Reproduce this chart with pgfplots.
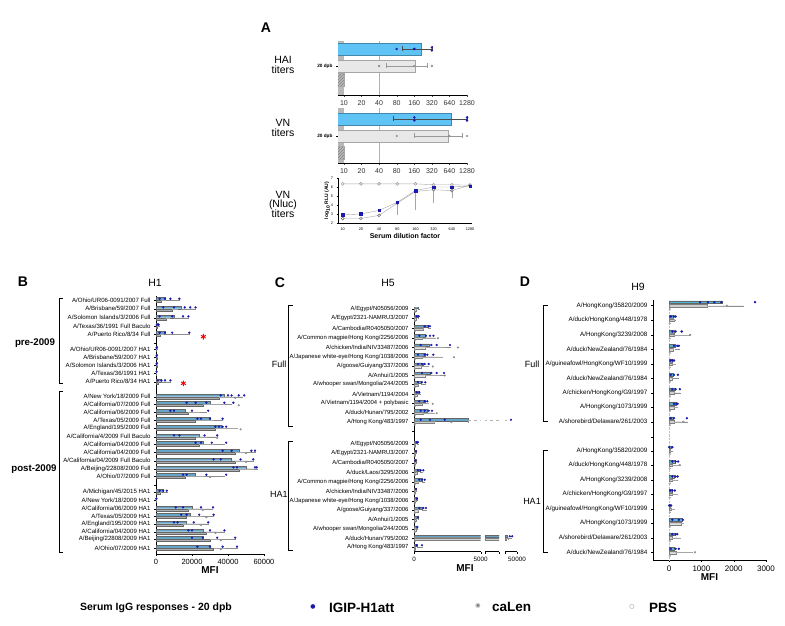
\documentclass[border=0pt]{standalone}
\usepackage{graphicx}
\usepackage{pgfplots}
\pgfplotsset{compat=1.18}
\usepackage{pgfplotstable}
\usepackage{fontspec}
\setmainfont{Liberation Sans}
\newfontfamily\dejavu{DejaVu Sans}
\usetikzlibrary{patterns}
\definecolor{abar}{RGB}{95,195,245}
\definecolor{ibar}{RGB}{100,165,200}
\definecolor{cbar}{RGB}{175,175,175}
\definecolor{dotb}{RGB}{25,25,175}
\newcommand{\fs}[1]{\fontsize{#1}{#1}\selectfont}

\pgfplotstableread{
y b g bp gp
-300.0 5000 3000 8000 2000
-308.7 14000 9000 8000 3000
-317.7 10000 5500 8000 2000
-326.0 1000 500 500 0
-334.0 5000 2000 13500 2000
-349.0 400 300 0 0
-357.0 600 400 0 0
-365.0 500 400 0 0
-373.0 300 200 0 0
-381.7 3000 1000 5000 0
-396.7 38000 35000 10000 8000
-404.0 30000 26000 12000 12000
-412.0 16000 18000 12000 6000
-420.0 30000 22000 7000 10000
-428.0 36000 33000 4000 12000
-436.7 24000 22000 10000 6000
-444.0 26000 24000 12000 8000
-452.0 46000 44000 9000 6000
-460.7 42000 44000 12000 5000
-468.7 50000 46000 6000 8000
-476.0 22000 16000 16000 10000
-492.0 4000 2000 2000 1000
-500.0 300 200 0 0
-508.7 20000 18000 11000 8000
-516.0 19000 17000 13000 8000
-523.7 17000 15000 12000 8000
-531.7 26000 28000 12000 6000
-539.0 26000 30000 18000 6000
-548.0 30000 32000 15000 6000
}\Bbars

\pgfplotstableread{
x y
2000 -300.0
5000 -300.0
8000 -300.0
13000 -300.0
4000 -308.7
10000 -308.7
16000 -308.7
19000 -308.7
22000 -308.7
2000 -317.7
9000 -317.7
15000 -317.7
18000 -317.7
500 -326.0
1500 -326.0
2000 -334.0
5000 -334.0
9000 -334.0
18500 -334.0
300 -349.0
300 -357.0
300 -365.0
300 -373.0
1000 -381.7
3000 -381.7
5000 -381.7
8000 -381.7
36000 -396.7
40000 -396.7
42000 -396.7
46000 -396.7
49000 -396.7
17000 -404.0
22000 -404.0
28000 -404.0
38000 -404.0
43000 -404.0
8000 -412.0
10000 -412.0
20000 -412.0
29000 -412.0
23000 -420.0
25000 -420.0
30000 -420.0
37000 -420.0
33000 -428.0
35000 -428.0
37000 -428.0
39000 -428.0
10000 -436.7
13000 -436.7
27000 -436.7
34000 -436.7
22000 -444.0
25000 -444.0
31000 -444.0
39000 -444.0
37000 -452.0
42000 -452.0
53000 -452.0
55000 -452.0
32000 -460.7
36000 -460.7
47000 -460.7
54000 -460.7
43000 -468.7
45000 -468.7
55000 -468.7
56000 -468.7
15000 -476.0
17000 -476.0
28000 -476.0
39000 -476.0
2000 -492.0
4000 -492.0
6000 -492.0
200 -500.0
11000 -508.7
15000 -508.7
25000 -508.7
31700 -508.7
14000 -516.0
17000 -516.0
24000 -516.0
32000 -516.0
10000 -523.7
12000 -523.7
21000 -523.7
29000 -523.7
18000 -531.7
20000 -531.7
30000 -531.7
38000 -531.7
20000 -539.0
26000 -539.0
34000 -539.0
44000 -539.0
23000 -548.0
30000 -548.0
37000 -548.0
45000 -548.0
}\Bdots

\pgfplotstableread{
x y
44000 -396.7
46000 -404.0
47000 -428.0
34000 -436.7
50000 -452.0
50000 -460.7
30000 -476.0
26000 -508.7
28000 -516.0
25000 -523.7
33000 -531.7
36000 -539.0
36000 -548.0
}\Bgdots

\pgfplotstableread{
y b g bp gp
-309.3 320 150 100 0
-318.3 300 120 50 0
-328.3 1070 700 130 0
-337.7 820 600 640 1000
-347.0 1100 800 1600 1500
-356.7 800 600 650 1500
-366.0 700 500 400 600
-375.0 1200 800 1050 1100
-384.3 550 300 300 0
-394.3 350 200 100 200
-403.3 820 600 200 500
-412.7 980 700 400 800
-421.7 4050 1500 0 0
-444.3 200 100 100 0
-453.3 150 100 50 0
-462.7 150 80 50 0
-472.3 450 200 200 0
-481.7 600 300 200 0
-491.0 150 100 0 0
-500.7 200 100 0 0
-510.0 600 300 300 0
-519.3 300 150 0 0
-529.0 250 120 0 0
-538.3 42000 41000 3000 0
-547.3 200 100 400 0
}\Cbars

\pgfplotstableread{
x y
200 -309.3
300 -309.3
400 -309.3
200 -318.3
350 -318.3
800 -328.3
1100 -328.3
1200 -328.3
400 -337.7
900 -337.7
1200 -337.7
1460 -337.7
500 -347.0
1300 -347.0
1700 -347.0
2700 -347.0
300 -356.7
800 -356.7
1000 -356.7
1450 -356.7
300 -366.0
600 -366.0
800 -366.0
1100 -366.0
600 -375.0
1300 -375.0
1700 -375.0
2250 -375.0
300 -384.3
600 -384.3
850 -384.3
200 -394.3
400 -394.3
400 -403.3
800 -403.3
1000 -403.3
500 -412.7
800 -412.7
1100 -412.7
1350 -412.7
500 -421.7
1200 -421.7
2300 -421.7
45000 -421.7
200 -444.3
300 -444.3
150 -453.3
100 -462.7
300 -472.3
500 -472.3
700 -472.3
400 -481.7
600 -481.7
800 -481.7
150 -491.0
200 -500.7
400 -510.0
700 -510.0
900 -510.0
300 -519.3
250 -529.0
44000 -538.3
46000 -538.3
200 -547.3
600 -547.3
}\Cdots

\pgfplotstableread{
x y
1800 -337.7
3300 -347.0
3000 -356.7
1400 -366.0
2300 -375.0
1400 -403.3
1700 -412.7
2800 -421.7
43000 -538.3
}\Cgdots

\pgfplotstableread{
y b g bp gp
-305.7 1630 1170 660 620
-320.0 130 150 70 0
-335.0 150 150 240 500
-349.3 170 120 130 0
-364.0 80 100 70 100
-378.3 120 100 150 0
-392.7 180 150 150 0
-407.3 200 150 60 100
-421.7 120 150 430 290
-450.7 50 30 50 0
-465.0 170 100 110 230
-480.0 140 80 120 150
-494.0 100 80 80 160
-509.0 30 60 30 100
-523.3 390 380 30 50
-537.7 170 100 80 230
-552.3 150 200 150 500
}\Dbars

\pgfplotstableread{
x y
960 -305.7
1200 -305.7
1400 -305.7
1620 -305.7
2660 -305.7
50 -320.0
150 -320.0
200 -320.0
100 -335.0
200 -335.0
390 -335.0
150 -349.3
250 -349.3
300 -349.3
50 -364.0
100 -364.0
150 -364.0
50 -378.3
150 -378.3
270 -378.3
100 -392.7
200 -392.7
330 -392.7
150 -407.3
220 -407.3
260 -407.3
50 -421.7
150 -421.7
550 -421.7
0 -450.7
100 -450.7
100 -465.0
200 -465.0
280 -465.0
100 -480.0
200 -480.0
260 -480.0
30 -494.0
100 -494.0
180 -494.0
0 -509.0
60 -509.0
100 -523.3
300 -523.3
420 -523.3
100 -537.7
200 -537.7
250 -537.7
50 -552.3
200 -552.3
300 -552.3
}\Ddots

\pgfplotstableread{
x y
1790 -305.7
650 -335.0
440 -421.7
330 -465.0
800 -552.3
}\Dgdots

\pgfplotsset{
  rowax/.style={scale only axis, anchor=south west,
    axis x line*=bottom, axis y line*=left,
    major tick length=2pt, tick align=outside,
    tick style={black, line width=0.4pt},
    axis line style={black, line width=0.5pt},
    scaled x ticks=false, scaled y ticks=false,
    clip=true},
}

% #1 = segment xmin, #2 = segment xmax
\newcommand{\Cplots}[2]{%
  \addplot[xbar, bar width=2.4pt, bar shift=2pt, fill=ibar, draw=black!60, line width=0.2pt,
    restrict x to domain=#1:1000000,
    error bars/.cd, x dir=plus, x explicit, error bar style={black!45, line width=0.25pt},
    error mark options={black!45, mark size=0.8pt}]
    table[x=b, y=y, x error plus=bp] {\Cbars};
  \addplot[xbar, bar width=2.4pt, bar shift=-0.5pt, fill=cbar!60, draw=black!50, line width=0.2pt,
    restrict x to domain=#1:1000000,
    error bars/.cd, x dir=plus, x explicit, error bar style={black!35, line width=0.25pt},
    error mark options={black!35, mark size=0.8pt}]
    table[x=g, y=y, x error plus=gp] {\Cbars};
  \addplot[gray!60, dashed, line width=0.6pt] coordinates {(4050,-420.2) (42000,-420.2)};
  \addplot[only marks, mark=*, mark size=0.9pt, dotb, restrict x to domain=#1:#2] table[x=x, y expr=\thisrow{y}+2] {\Cdots};
  \addplot[only marks, mark=*, mark size=0.8pt, draw=gray, fill=gray!30, restrict x to domain=#1:#2] table[x=x, y expr=\thisrow{y}-0.5] {\Cgdots};
  \addplot[only marks, mark=o, mark size=0.8pt, gray!80, restrict x to domain=#1:#2] table[x expr=60, y expr=\thisrow{y}-3] {\Cbars};
}

\begin{document}
\begin{tikzpicture}
\useasboundingbox (0pt,0pt) rectangle (785pt,625pt);

% ---------------- Panel A ----------------
\node[font=\bfseries\fs{14}] at (266pt,597pt) {A};
\node[font=\fs{10.5}, align=center] at (283pt,560pt) {HAI\\[-1pt]titers};
\node[font=\fs{10.5}, align=center] at (283pt,497pt) {VN\\[-1pt]titers};
\node[font=\fs{10.5}, align=center] at (283pt,421pt) {VN\\[-1pt](Nluc)\\[-1pt]titers};

\begin{axis}[rowax, at={(338pt,530pt)}, width=129pt, height=54.3pt,
  xmode=log, xmin=7.9, xmax=1280, ymin=-95, ymax=-40.7,
  xtick={10,20,40,80,160,320,640,1280}, xticklabels={10,20,40,80,160,320,640,1280},
  xticklabel style={font=\fs{7}, text=black!80},
  ytick={-66}, yticklabels={\textbf{20 dpb}}, yticklabel style={font=\fs{4.7}},
  xtick style={black!70}]
  \addplot[fill=gray!55, draw=none] coordinates {(7.9,-95) (10,-95) (10,-40.7) (7.9,-40.7)} -- cycle;
  \addplot[gray!60, line width=0.4pt] coordinates {(40,-95) (40,-40.7)};
  \addplot[xbar, bar width=12pt, bar shift=0pt, fill=abar, draw=abar!70!black, line width=0.3pt] coordinates {(211,-49)};
  \addplot[xbar, bar width=12pt, bar shift=0pt, fill=gray!18, draw=gray!70, line width=0.3pt] coordinates {(166,-66)};
  \addplot[xbar, bar width=13pt, bar shift=0pt, pattern=north east lines, pattern color=gray, draw=gray!70, line width=0.3pt] coordinates {(10,-80)};
  \addplot[black!70, line width=0.4pt, mark=|, mark size=2.5pt] coordinates {(100,-49) (320,-49)};
  \addplot[gray!80, line width=0.4pt, mark=|, mark size=2.5pt] coordinates {(53,-66) (270,-66)};
  \addplot[only marks, mark=*, mark size=1pt, dotb] coordinates {(80,-49) (160,-49) (160,-49) (320,-47.5) (320,-50.5)};
  \addplot[only marks, mark=*, mark size=0.9pt, draw=gray, fill=gray!30] coordinates {(40,-66) (160,-66) (320,-66)};
\end{axis}

\begin{axis}[rowax, at={(338pt,462pt)}, width=129pt, height=55pt,
  xmode=log, xmin=7.9, xmax=1280, ymin=-163, ymax=-108,
  xtick={10,20,40,80,160,320,640,1280}, xticklabels={10,20,40,80,160,320,640,1280},
  xticklabel style={font=\fs{7}, text=black!80},
  ytick={-136}, yticklabels={\textbf{20 dpb}}, yticklabel style={font=\fs{4.7}},
  xtick style={black!70}]
  \addplot[fill=gray!55, draw=none] coordinates {(7.9,-163) (10,-163) (10,-108) (7.9,-108)} -- cycle;
  \addplot[gray!60, line width=0.4pt] coordinates {(40,-163) (40,-108)};
  \addplot[xbar, bar width=12pt, bar shift=0pt, fill=abar, draw=abar!70!black, line width=0.3pt] coordinates {(690,-119)};
  \addplot[xbar, bar width=12pt, bar shift=0pt, fill=gray!18, draw=gray!70, line width=0.3pt] coordinates {(600,-136)};
  \addplot[xbar, bar width=13pt, bar shift=0pt, pattern=north east lines, pattern color=gray, draw=gray!70, line width=0.3pt] coordinates {(10,-153)};
  \addplot[black!70, line width=0.4pt, mark=|, mark size=2.5pt] coordinates {(70,-119) (1280,-119)};
  \addplot[gray!80, line width=0.4pt, mark=|, mark size=2.5pt] coordinates {(160,-136) (1050,-136)};
  \addplot[only marks, mark=*, mark size=1pt, dotb] coordinates {(160,-117.5) (160,-120.5) (1280,-117.5) (1280,-120.5)};
  \addplot[only marks, mark=*, mark size=0.9pt, draw=gray, fill=gray!30] coordinates {(80,-136) (640,-136) (1280,-136)};
\end{axis}

\begin{axis}[rowax, at={(338pt,402pt)}, width=134pt, height=45pt,
  xmin=-0.26, xmax=7.11, ymin=2, ymax=7,
  xtick={0,1,2,3,4,5,6,7}, xticklabels={10,20,40,80,160,320,640,1280},
  ytick={2,3,4,5,6,7}, yticklabels={2,3,4,5,6,7},
  ticklabel style={font=\fs{3.8}}, major tick length=1.5pt,
  xlabel={\textbf{Serum dilution factor}}, xlabel style={font=\fs{7}, yshift=4pt},
  ylabel={\textbf{log$_{\mathbf{10}}$ RLU (AU)}}, ylabel style={font=\fs{5}, yshift=-6pt}]
  \addplot[gray!70, line width=0.4pt, mark=o, mark size=1.5pt, mark options={gray!90, solid}]
    coordinates {(0,6.35) (1,6.35) (2,6.35) (3,6.35) (4,6.35) (5,6.25) (6,6.25) (7,6.2)};
  \addplot[gray!70, line width=0.4pt, mark=o, mark size=1.5pt, mark options={black!60, solid},
    error bars/.cd, y dir=minus, y explicit, error bar style={gray!70, line width=0.3pt}, error mark options={gray!70, mark size=1pt}]
    coordinates {(0,2.5) (1,2.5) (2,2.85) (3,4.2) -= (0,1.2) (4,5.5) -= (0,2.0) (5,5.7) -= (0,1.4) (6,5.6) -= (0,0.7) (7,6.2)};
  \addplot[gray!70, line width=0.4pt, mark=square*, mark size=1.3pt, mark options={dotb, solid}]
    coordinates {(0,2.9) (1,3.0) (2,3.4) (3,4.3) (4,5.6) (5,6.0) (6,6.0) (7,6.1)};
\end{axis}

% ---------------- Panel B ----------------
\node[font=\bfseries\fs{14}] at (23pt,343pt) {B};
\node[font=\fs{10.5}] at (155pt,342pt) {H1};
\node[font=\bfseries\fs{9.7}] at (35pt,282.3pt) {pre-2009};
\node[font=\bfseries\fs{9.7}] at (34pt,156pt) {post-2009};
\draw[line width=0.6pt] (63pt,327pt) -- (59.5pt,327pt) -- (59.5pt,242pt) -- (63pt,242pt);
\draw[line width=0.6pt] (63pt,234pt) -- (59.5pt,234pt) -- (59.5pt,72.3pt) -- (63pt,72.3pt);

\begin{axis}[rowax, at={(156pt,71pt)}, width=108pt, height=258pt,
  xmin=0, xmax=60000, ymin=-554, ymax=-296,
  xtick={0,20000,40000,60000}, xticklabels={0,20000,40000,60000},
  xticklabel style={font=\fs{7.5}},
  xlabel={\textbf{MFI}}, xlabel style={font=\fs{10}, yshift=5pt},
  ytick={-300,-308.7,-317.7,-326,-334,-342.7,-349,-357,-365,-373,-381.7,-396.7,-404,-412,-420,-428,-436.7,-444,-452,-460.7,-468.7,-476,-485,-492,-500,-508.7,-516,-523.7,-531.7,-539,-548},
  yticklabels={A/Ohio/UR06-0091/2007 Full,A/Brisbane/59/2007 Full,A/Solomon Islands/3/2006 Full,A/Texas/36/1991 Full Baculo,A/Puerto Rico/8/34 Full,,A/Ohio/UR06-0091/2007 HA1,A/Brisbane/59/2007 HA1,A/Solomon Islands/3/2006 HA1,A/Texas/36/1991 HA1,A/Puerto Rico/8/34 HA1,A/New York/18/2009 Full,A/California/07/2009 Full,A/California/06/2009 Full,A/Texas/05/2009 Full,A/England/195/2009 Full,A/California/4/2009 Full Baculo,A/California/04/2009 Full,A/California/04/2009 Full,A/California/04/2009 Full Baculo,A/Beijing/22808/2009 Full,A/Ohio/07/2009 Full,,A/Michigan/45/2015 HA1,A/New York/18/2009 HA1,A/California/06/2009 HA1,A/Texas/05/2009 HA1,A/England/195/2009 HA1,A/California/04/2009 HA1,A/Beijing/22808/2009 HA1,A/Ohio/07/2009 HA1},
  yticklabel style={font=\fs{6.1}}]
  \addplot[xbar, bar width=2.5pt, bar shift=1.3pt, fill=ibar, draw=black!60, line width=0.2pt,
    error bars/.cd, x dir=plus, x explicit, error bar style={black!45, line width=0.25pt},
    error mark options={black!45, mark size=0.8pt}]
    table[x=b, y=y, x error plus=bp] {\Bbars};
  \addplot[xbar, bar width=2.5pt, bar shift=-1.3pt, fill=cbar, draw=black!60, line width=0.2pt,
    error bars/.cd, x dir=plus, x explicit, error bar style={black!35, line width=0.25pt},
    error mark options={black!35, mark size=0.8pt}]
    table[x=g, y=y, x error plus=gp] {\Bbars};
  \addplot[only marks, mark=*, mark size=0.95pt, dotb] table[x=x, y expr=\thisrow{y}+1.3] {\Bdots};
  \addplot[only marks, mark=*, mark size=0.85pt, draw=gray, fill=gray!30] table[x=x, y expr=\thisrow{y}-1.3] {\Bgdots};
  \addplot[only marks, mark=asterisk, mark size=2.8pt, red, line width=0.9pt] coordinates {(26300,-336.7) (15200,-383.3)};
\end{axis}

% ---------------- Panel C ----------------
\node[font=\bfseries\fs{14}] at (280pt,342pt) {C};
\node[font=\fs{10.5}] at (388pt,342pt) {H5};
\node[font=\fs{9}] at (279pt,261pt) {Full};
\node[font=\fs{9}] at (279pt,131pt) {HA1};
\draw[line width=0.6pt] (293pt,320pt) -- (288.5pt,320pt) -- (288.5pt,198.3pt) -- (293pt,198.3pt);
\draw[line width=0.6pt] (293pt,183.3pt) -- (288.5pt,183.3pt) -- (288.5pt,75pt) -- (293pt,75pt);

\begin{axis}[rowax, at={(414pt,73.3pt)}, width=66.7pt, height=243.7pt,
  xmin=0, xmax=5000, ymin=-551.7, ymax=-308,
  xtick={0,5000}, xticklabels={0,5000}, xticklabel style={font=\fs{6.3}},
  ytick={-309.3,-318.3,-328.3,-337.7,-347,-356.7,-366,-375,-384.3,-394.3,-403.3,-412.7,-421.7,-431,-444.3,-453.3,-462.7,-472.3,-481.7,-491,-500.7,-510,-519.3,-529,-538.3,-547.3},
  yticklabels={A/Egypt/N05056/2009,A/Egypt/2321-NAMRU3/2007,A/Cambodia/R0405050/2007,A/Common magpie/Hong Kong/2256/2006,A/chicken/India/NIV33487/2006,A/Japanese white-eye/Hong Kong/1038/2006,A/goose/Guiyang/337/2006,A/Anhui/1/2005,A/whooper swan/Mongolia/244/2005,A/Vietnam/1194/2004,A/Vietnam/1194/2004 + polybasic,A/duck/Hunan/795/2002,A/Hong Kong/483/1997,,A/Egypt/N05056/2009,A/Egypt/2321-NAMRU3/2007,A/Cambodia/R0405050/2007,A/duck/Laos/3295/2006,A/Common magpie/Hong Kong/2256/2006,A/chicken/India/NIV33487/2006,A/Japanese white-eye/Hong Kong/1038/2006,A/goose/Guiyang/337/2006,A/Anhui/1/2005,A/whooper swan/Mongolia/244/2005,A/duck/Hunan/795/2002,A/Hong Kong/483/1997},
  yticklabel style={font=\fs{5.9}}]
  \Cplots{0}{5000}
\end{axis}
\begin{axis}[rowax, at={(485pt,73.3pt)}, width=14pt, height=243.7pt,
  xmin=5000, xmax=20000, ymin=-551.7, ymax=-308, axis y line=none,
  xtick={5000,20000}, xticklabels={,}, ytick=\empty]
  \Cplots{5000}{20000}
\end{axis}
\begin{axis}[rowax, at={(505pt,73.3pt)}, width=12pt, height=243.7pt,
  xmin=40000, xmax=50000, ymin=-551.7, ymax=-308, axis y line=none,
  xtick={40000,50000}, xticklabels={,50000}, xticklabel style={font=\fs{6.3}}, ytick=\empty]
  \Cplots{40000}{50000}
\end{axis}
\node[font=\bfseries\fs{10}] at (465pt,57pt) {MFI};

% ---------------- Panel D ----------------
\node[font=\bfseries\fs{14}] at (525pt,343pt) {D};
\node[font=\fs{10.5}] at (638pt,338pt) {H9};
\node[font=\fs{9}] at (532pt,260.7pt) {Full};
\node[font=\fs{9}] at (532pt,123.3pt) {HA1};
\draw[line width=0.6pt] (548pt,319.3pt) -- (543.5pt,319.3pt) -- (543.5pt,203.3pt) -- (548pt,203.3pt);
\draw[line width=0.6pt] (548pt,174.3pt) -- (543.5pt,174.3pt) -- (543.5pt,72.7pt) -- (548pt,72.7pt);

\begin{axis}[rowax, at={(653pt,65pt)}, width=113pt, height=260pt,
  xmin=-500, xmax=3000, ymin=-560, ymax=-300,
  xtick={0,1000,2000,3000}, xticklabels={0,1000,2000,3000}, xticklabel style={font=\fs{8}},
  xlabel={\textbf{MFI}}, xlabel style={font=\fs{10}, yshift=4pt},
  ytick={-305.7,-320,-335,-349.3,-364,-378.3,-392.7,-407.3,-421.7,-436.7,-450.7,-465,-480,-494,-509,-523.3,-537.7,-552.3},
  yticklabels={A/HongKong/35820/2009,A/duck/HongKong/448/1978,A/HongKong/3239/2008,A/duck/NewZealand/76/1984,A/guineafowl/HongKong/WF10/1999,A/duck/NewZealand/76/1984,A/chicken/HongKong/G9/1997,A/HongKong/1073/1999,A/shorebird/Delaware/261/2003,,A/HongKong/35820/2009,A/duck/HongKong/448/1978,A/HongKong/3239/2008,A/chicken/HongKong/G9/1997,A/guineafowl/HongKong/WF10/1999,A/HongKong/1073/1999,A/shorebird/Delaware/261/2003,A/duck/NewZealand/76/1984},
  yticklabel style={font=\fs{6.3}}]
  \addplot[gray!50, densely dotted, line width=0.4pt] coordinates {(0,-560) (0,-300)};
  \addplot[xbar, bar width=2.6pt, bar shift=3.5pt, fill=ibar!80!cyan, draw=black!60, line width=0.2pt,
    error bars/.cd, x dir=plus, x explicit, error bar style={black!45, line width=0.25pt},
    error mark options={black!45, mark size=0.8pt}]
    table[x=b, y=y, x error plus=bp] {\Dbars};
  \addplot[xbar, bar width=2.6pt, bar shift=0pt, fill=cbar!60, draw=black!50, line width=0.2pt,
    error bars/.cd, x dir=plus, x explicit, error bar style={black!35, line width=0.25pt},
    error mark options={black!35, mark size=0.8pt}]
    table[x=g, y=y, x error plus=gp] {\Dbars};
  \addplot[only marks, mark=*, mark size=1pt, dotb] table[x=x, y expr=\thisrow{y}+3.5] {\Ddots};
  \addplot[only marks, mark=*, mark size=0.9pt, draw=gray, fill=gray!30] table[x=x, y expr=\thisrow{y}] {\Dgdots};
  \addplot[only marks, mark=o, mark size=0.9pt, gray!80] table[x expr=20, y expr=\thisrow{y}-3.5] {\Dbars};
\end{axis}

% ---------------- Legend ----------------
\node[font=\bfseries\fs{10.5}] at (156pt,17.3pt) {Serum IgG responses - 20 dpb};
\node[font=\dejavu\fs{6}, text=dotb] at (313pt,18pt) {●};
\node[font=\bfseries\fs{13.5}, anchor=west, inner sep=0pt] at (329pt,17pt) {IGIP-H1att};
\node[font=\dejavu\fs{6}, text=gray] at (478pt,19pt) {◉};
\node[font=\bfseries\fs{13.5}, anchor=west, inner sep=0pt] at (492pt,18pt) {caLen};
\node[font=\dejavu\fs{6}, text=gray] at (632pt,18pt) {○};
\node[font=\bfseries\fs{13.5}, anchor=west, inner sep=0pt] at (649pt,17pt) {PBS};
\end{tikzpicture}
\end{document}
